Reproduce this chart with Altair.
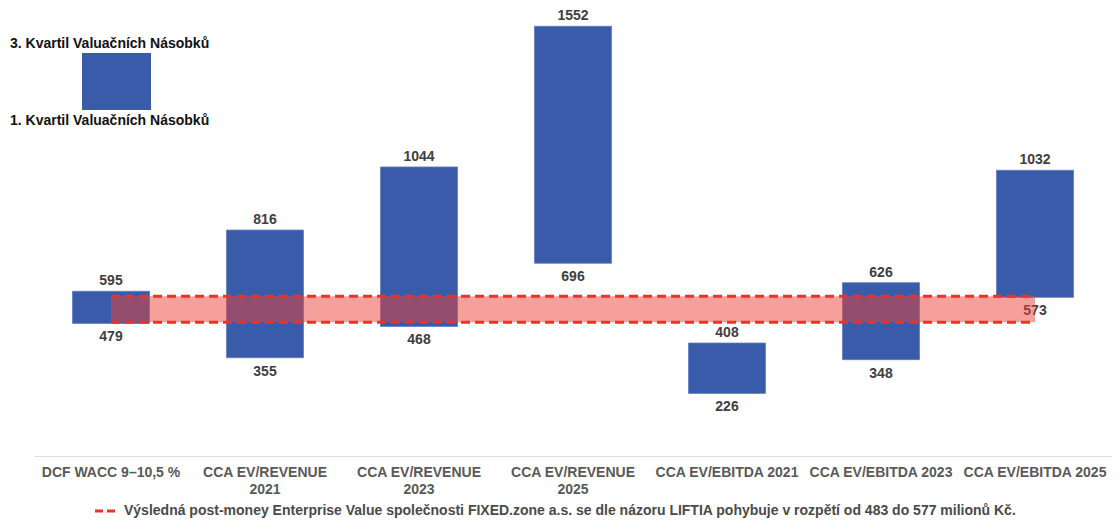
import altair as alt
import pandas as pd

categories = ["DCF WACC 9–10,5 %", "CCA EV/REVENUE|2021", "CCA EV/REVENUE|2023",
              "CCA EV/REVENUE|2025", "CCA EV/EBITDA 2021", "CCA EV/EBITDA 2023",
              "CCA EV/EBITDA 2025"]
q1_values = [479, 355, 468, 696, 226, 348, 573]
q3_values = [595, 816, 1044, 1552, 408, 626, 1032]
range_low = 483
range_high = 577
legend_top = "3. Kvartil Valuačních Násobků"
legend_bottom = "1. Kvartil Valuačních Násobků"
footnote = ("Výsledná post-money Enterprise Value společnosti FIXED.zone a.s. se dle názoru "
            "LIFTIA pohybuje v rozpětí od 483 do 577 milionů Kč.")

FONT = "Liberation Sans"
BLUE = "#3A5BA9"
RED = "#EE3224"
FS = 14

df = pd.DataFrame({"cat": categories, "low": q1_values, "high": q3_values})
band = pd.DataFrame({"cat": categories, "lo": [range_low] * len(categories),
                     "hi": [range_high] * len(categories)})
one = pd.DataFrame({"k": [0]})

xenc = alt.X("cat:N", sort=categories,
             scale=alt.Scale(paddingInner=0.5, paddingOuter=0.25),
             axis=alt.Axis(title=None, labelExpr="split(datum.label, '|')",
                           labelFont=FONT, labelFontWeight="bold", labelFontSize=FS,
                           labelColor="#595959", labelAngle=0, labelOverlap=False,
                           labelLimit=0, labelPadding=9, labelLineHeight=17,
                           ticks=False, domainColor="#dedede", domainWidth=1,
                           grid=False))
yscale = alt.Scale(domain=[0, 1600], nice=False, zero=True)

bars = alt.Chart(df).mark_bar(color=BLUE, stroke="#5f7cc2", strokeWidth=0.8).encode(
    x=xenc,
    y=alt.Y("low:Q", scale=yscale, axis=None),
    y2="high:Q",
)
top_lbl = alt.Chart(df).mark_text(font=FONT, fontWeight="bold", fontSize=FS,
                                  color="#404040", baseline="middle", dy=-10).encode(
    x=alt.X("cat:N", sort=categories), y=alt.Y("high:Q", scale=yscale), text="high:Q")
bot_lbl = alt.Chart(df).mark_text(font=FONT, fontWeight="bold", fontSize=FS,
                                  color="#404040", baseline="middle", dy=14).encode(
    x=alt.X("cat:N", sort=categories), y=alt.Y("low:Q", scale=yscale), text="low:Q")

area = alt.Chart(band).mark_area(color="#EB4135", opacity=0.5).encode(
    x=alt.X("cat:N", sort=categories), y=alt.Y("lo:Q", scale=yscale), y2="hi:Q")
line_lo = alt.Chart(band).mark_line(color=RED, strokeWidth=3, strokeDash=[9, 5]).encode(
    x=alt.X("cat:N", sort=categories), y=alt.Y("lo:Q", scale=yscale))
line_hi = alt.Chart(band).mark_line(color=RED, strokeWidth=3, strokeDash=[9, 5]).encode(
    x=alt.X("cat:N", sort=categories), y=alt.Y("hi:Q", scale=yscale))

leg_rect = alt.Chart(one).mark_rect(color=BLUE).encode(
    x=alt.value(48), x2=alt.value(117), y=alt.value(40), y2=alt.value(97))
leg_t1 = alt.Chart(one).mark_text(font=FONT, fontWeight="bold", fontSize=FS, color="#111111",
                                  align="left", baseline="middle").encode(
    x=alt.value(-24), y=alt.value(31), text=alt.value(legend_top))
leg_t2 = alt.Chart(one).mark_text(font=FONT, fontWeight="bold", fontSize=FS, color="#111111",
                                  align="left", baseline="middle").encode(
    x=alt.value(-24), y=alt.value(108), text=alt.value(legend_bottom))

foot_line = alt.Chart(one).mark_rule(color=RED, strokeWidth=3, strokeDash=[8, 4]).encode(
    x=alt.value(61), x2=alt.value(84), y=alt.value(498))
foot_txt = alt.Chart(one).mark_text(font=FONT, fontWeight="bold", fontSize=FS, color="#4a4a4a",
                                    align="left", baseline="middle").encode(
    x=alt.value(90), y=alt.value(498), text=alt.value(footnote))

chart = alt.layer(bars, top_lbl, bot_lbl, area, line_lo, line_hi,
                  leg_rect, leg_t1, leg_t2, foot_line, foot_txt).properties(
    width=1078, height=443,
    background="white",
    autosize=alt.AutoSizeParams(type="none"),
    padding={"left": 26, "top": 5, "right": 0, "bottom": 65},
).configure_view(stroke=None)

chart.save("out.html", embed_options={"renderer": "svg", "actions": False})
